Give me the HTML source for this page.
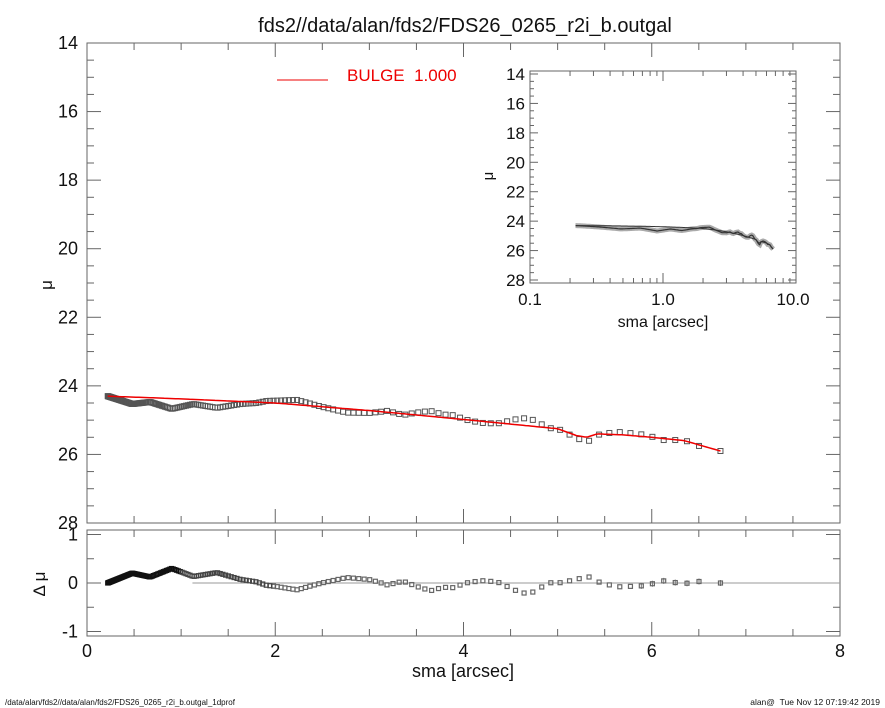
<!DOCTYPE html>
<html><head><meta charset="utf-8"><style>
html,body{margin:0;padding:0;background:#fff;}
svg{display:block;font-family:"Liberation Sans",sans-serif;}
</style></head><body>
<svg id="s" width="885" height="708" viewBox="0 0 885 708" xmlns="http://www.w3.org/2000/svg">
<rect width="885" height="708" fill="#fff"/>
<text x="465" y="32" font-size="20" text-anchor="middle" fill="#111">fds2//data/alan/fds2/FDS26_0265_r2i_b.outgal</text>
<g id="g"></g>
<line x1="277" y1="80" x2="328" y2="80" stroke="#e00" stroke-width="1"/>
<text x="347" y="81" font-size="17" fill="#e00">BULGE&#160;&#160;1.000</text>
<text x="52" y="285" font-size="17" text-anchor="middle" transform="rotate(-90 52 285)" fill="#111">μ</text>
<text x="45" y="584" font-size="17" text-anchor="middle" transform="rotate(-90 45 584)" fill="#111">Δ μ</text>
<text x="463" y="677" font-size="18" text-anchor="middle" fill="#111">sma [arcsec]</text>
<text x="493" y="176" font-size="15" text-anchor="middle" transform="rotate(-90 493 176)" fill="#111">μ</text>
<text x="663" y="327" font-size="16" text-anchor="middle" fill="#111">sma [arcsec]</text>
<text x="5" y="705" font-size="8" fill="#111">/data/alan/fds2//data/alan/fds2/FDS26_0265_r2i_b.outgal_1dprof</text>
<text x="880" y="705" font-size="8.5" text-anchor="end" fill="#111">alan@&#160;&#160;Tue Nov 12 07:19:42 2019</text>
</svg>
<script>
var g=document.getElementById('g'),h='';
function L(a,b,c,d,col,w){h+='<line x1="'+a+'" y1="'+b+'" x2="'+c+'" y2="'+d+'" stroke="'+(col||'#666')+'" stroke-width="'+(w||1)+'"/>';}
function T(x,y,s,fs,anc){h+='<text x="'+x+'" y="'+y+'" font-size="'+fs+'" text-anchor="'+(anc||'middle')+'" fill="#111">'+s+'</text>';}
var X0=87,X1=840;function px(x){return X0+(x)*(X1-X0)/8;}
var MT=43,MB=523;function py(m){return MT+(m-14)*(MB-MT)/14;}
var RT=530,RB=636;function ry(r){return 583-r*48.5;}
h+='<rect x="87" y="43" width="753" height="480" fill="none" stroke="#666"/>';
h+='<rect x="87" y="530" width="753" height="106" fill="none" stroke="#666"/>';
for(var x=0;x<=8.001;x+=0.5){var mj=Math.abs(x-Math.round(x/2)*2)<0.01,l=mj?14:7,p=px(x);
L(p,MB,p,MB-l);L(p,MT,p,MT+l);L(p,RB,p,RB-l);L(p,RT,p,RT+l);
if(mj)T(p,657,Math.round(x),18);}
for(var m=14;m<=28.001;m+=0.5){var mj=Math.abs(m-Math.round(m/2)*2)<0.01,l=mj?14:7,q=py(m);
L(X0,q,X0+l,q);L(X1,q,X1-l,q);if(mj)T(78,q+6,Math.round(m),18,'end');}
[[1,'1'],[0,'0'],[-1,'-1']].forEach(function(a){var q=ry(a[0]);L(X0,q,X0+14,q);L(X1,q,X1-14,q);T(78,q+6,a[1],18,'end');});
[0.5,-0.5].forEach(function(r){var q=ry(r);L(X0,q,X0+7,q);L(X1,q,X1-7,q);});
var dk=[[0.22,24.3],[0.48,24.53],[0.67,24.47],[0.9,24.67],[1.13,24.53],[1.38,24.64],[1.63,24.53],[1.8,24.5],[1.91,24.44],[2.23,24.41],[2.48,24.6],[2.76,24.78],[3.0,24.79],[3.11,24.76],[3.19,24.73],[3.36,24.85],[3.5,24.78],[3.65,24.73],[3.79,24.84],[3.87,24.84],[4.03,24.99],[4.19,25.08],[4.36,25.1],[4.53,24.99],[4.62,24.94],[4.72,24.97],[4.91,25.23],[5.01,25.26],[5.11,25.4],[5.21,25.53],[5.31,25.65],[5.42,25.43],[5.63,25.34],[5.86,25.4],[5.98,25.46],[6.1,25.58],[6.35,25.58],[6.47,25.75],[6.6,25.76],[6.73,25.9]];
var mk=[[0.22,24.3],[1.0,24.38],[2.0,24.5],[3.0,24.72],[4.0,24.98],[5.0,25.25],[5.2,25.45],[5.31,25.5],[5.42,25.4],[5.7,25.43],[6.0,25.5],[6.35,25.6],[6.5,25.72],[6.73,25.9]];
function ip(k,x){for(var i=0;i<k.length-1;i++){if(x<=k[i+1][0]){var t=(x-k[i][0])/(k[i+1][0]-k[i][0]);return k[i][1]+t*(k[i+1][1]-k[i][1]);}}return k[k.length-1][1];}
var xs=[];var x=0.22;while(x<6.6){xs.push(x);x*=1.02;}xs.push(6.73);
xs.forEach(function(x){var d=ip(dk,x),p=px(x),q=py(d);h+='<rect x="'+(p-2.5)+'" y="'+(q-2.5)+'" width="5" height="5" fill="none" stroke="#555" stroke-width="1"/>';});
var mp='';for(var x=0.22;x<=6.74;x+=0.03){mp+=(mp?'L':'M')+px(x).toFixed(1)+','+py(ip(mk,x)).toFixed(1);}
h+='<path d="'+mp+'" fill="none" stroke="#e00" stroke-width="1.5"/>';
L(px(1.12),583,X1,583,'#999',1);
xs.forEach(function(x){var r=ip(dk,x)-ip(mk,x),p=px(x),q=ry(r);var c=x<1?'#111':(x<2?'#444':'#666');
if(x>5.8){L(p,q-3,p,q+3,'#777',1);}
h+='<rect x="'+(p-2)+'" y="'+(q-2)+'" width="4" height="4" fill="none" stroke="'+c+'" stroke-width="1.2"/>';});
var IL=530,IR=796,IT=71,IB=283;function ix(x){return 663+Math.log10(x)*133;}function iy(m){return 74+(m-14)*(280-74)/14;}
h+='<rect x="530" y="71" width="266" height="212" fill="#fff" stroke="#666"/>';
for(var m=14;m<=28.001;m+=0.5){var mj=Math.abs(m-Math.round(m/2)*2)<0.01,l=mj?8:4,q=iy(m);L(IL,q,IL+l,q);L(IR,q,IR-l,q);if(mj)T(525,q+6,Math.round(m),17,'end');}
for(var d=0.1;d<10;d*=10){for(var k=1;k<10;k++){var p=ix(d*k);var l=k==1?10:5;if(p<IL||p>IR)continue;L(p,IB,p,IB-l);L(p,IT,p,IT+l);}}
T(530,305,'0.1',17);T(663,305,'1.0',17);T(793,305,'10.0',17);
var dp='',mp2='';xs.forEach(function(x){dp+=(dp?'L':'M')+ix(x).toFixed(1)+','+iy(ip(dk,x)).toFixed(1);mp2+=(mp2?'L':'M')+ix(x).toFixed(1)+','+iy(ip(mk,x)).toFixed(1);});
h+='<path d="'+dp+'" fill="none" stroke="#aaa" stroke-width="5"/>';
h+='<path d="'+dp+'" fill="none" stroke="#333" stroke-width="1.2"/>';
h+='<path d="'+mp2+'" fill="none" stroke="#333" stroke-width="1"/>';
g.innerHTML=h;
</script>
</body></html>
